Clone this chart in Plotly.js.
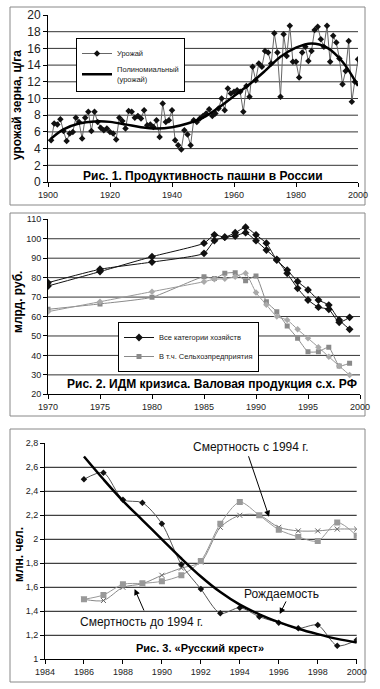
<!DOCTYPE html>
<html><head><meta charset="utf-8">
<script src="https://cdn.plot.ly/plotly-3.0.1.min.js"></script>
<style>html,body{margin:0;padding:0;background:#fff}#chart{width:380px;height:689px}</style>
</head><body><div id="chart"></div>
<script>
// ---- Panel 1: grain yield in Russia (ц/га) ----
const yieldYears = [1901,1902,1903,1904,1905,1906,1907,1908,1909,1910,
  1911,1912,1913,1914,1915,1916,1917,1918,1919,1920,
  1921,1922,1923,1924,1925,1926,1927,1928,1929,1930,
  1931,1932,1933,1934,1935,1936,1937,1938,1939,1940,
  1941,1942,1943,1944,1945,1946,1947,1948,1949,1950,
  1951,1952,1953,1954,1955,1956,1957,1958,1959,1960,
  1961,1962,1963,1964,1965,1966,1967,1968,1969,1970,
  1971,1972,1973,1974,1975,1976,1977,1978,1979,1980,
  1981,1982,1983,1984,1985,1986,1987,1988,1989,1990,
  1991,1992,1993,1994,1995,1996,1997,1998,1999,2000];
const yieldValues = [5.0,7.0,6.9,7.5,6.1,4.9,5.8,6.0,7.7,7.2,
  5.2,7.7,8.4,6.1,8.4,7.2,6.5,6.2,6.4,6.0,
  5.8,5.1,7.7,7.3,6.4,8.5,8.4,7.7,7.9,7.6,
  8.6,6.8,6.9,6.6,7.4,5.4,9.4,7.2,7.4,8.6,
  5.0,4.4,3.9,6.2,5.7,4.4,7.4,7.2,7.6,7.9,
  8.2,8.7,7.9,8.2,8.8,10.0,8.6,11.2,10.6,10.8,
  11.0,10.8,8.4,11.5,10.2,13.8,12.2,14.2,13.8,15.7,
  15.5,14.2,17.8,15.5,10.2,17.7,15.1,18.7,14.4,14.4,
  12.5,15.5,16.2,14.5,15.7,18.2,18.6,17.1,16.2,18.7,
  14.4,17.5,16.7,14.8,11.7,13.3,16.9,9.6,12.0,14.7];
const trendYears = [1901,1905,1910,1915,1920,1925,1930,1935,1940,1945,1950,1955,1960,1965,1970,1975,1980,1985,1990,1995,2000];
const trendValues = [5.2,6.3,7.0,7.25,7.2,6.9,6.55,6.4,6.55,7.0,7.7,8.9,10.3,11.7,13.3,15.0,16.1,16.6,16.1,14.4,11.5];
const xTicks1 = [1900,1920,1940,1960,1980,2000];
const yTicks1 = [0,2,4,6,8,10,12,14,16,18,20];
const grid1 = [2,4,6,8,10,12,14,16,18];

// ---- Panel 2: gross agricultural output, bn rub ----
const idmYears = [1970,1975,1980,1985,1986,1987,1988,1989,1990,1991,1992,1993,1994,1995,1996,1997,1998,1999];
const allFarmsA = [77.4,84.3,88.0,92.5,99.0,100.8,101.4,103.1,99.0,94.2,89.4,82.2,74.5,68.5,64.8,63.7,57.0,59.6];
const allFarmsB = [75.7,83.1,90.8,97.7,102.0,100.8,103.1,105.9,102.0,97.7,89.0,83.9,78.0,73.7,68.5,65.9,58.2,53.4];
const agriEntA = [63.7,66.5,69.9,80.5,79.5,82.2,82.5,78.4,80.9,67.6,62.5,55.1,48.8,41.9,41.9,44.2,34.6,36.0];
const agriEntB = [62.5,67.6,72.8,77.9,79.2,79.4,80.5,82.2,72.3,66.0,60.0,58.2,53.4,48.8,44.2,39.3,34.6,29.9];
const xTicks2 = [1970,1975,1980,1985,1990,1995,2000];
const yTicks2 = [20,30,40,50,60,70,80,90,100,110];
const grid2 = [30,40,50,60,70,80,90,100];

// ---- Panel 3: "Russian cross", mln people ----
const crossYears = [1986,1987,1988,1989,1990,1991,1992,1993,1994,1995,1996,1997,1998,1999,2000];
const births = [2.50,2.555,2.33,2.305,2.13,1.79,1.586,1.383,1.43,1.355,1.305,1.258,1.285,1.113,1.16];
const deathsSq = [1.50,1.536,1.625,1.633,1.65,1.70,1.82,2.13,2.31,2.20,2.08,2.02,1.985,2.14,2.03];
const deathsX = [1.50,1.49,1.60,1.63,1.70,1.76,1.81,2.10,2.20,2.20,2.10,2.07,2.07,2.085,2.085];
const birthTrend = [2.69,2.50,2.32,2.16,2.00,1.84,1.69,1.56,1.455,1.375,1.31,1.255,1.21,1.17,1.14];
const xTicks3 = [1984,1986,1988,1990,1992,1994,1996,1998,2000];
const yTicks3 = [1,1.2,1.4,1.6,1.8,2,2.2,2.4,2.6,2.8];
const grid3 = [1.2,1.4,1.6,1.8,2,2.2,2.4,2.6];

const W = 380, H = 689;
const px = v => v / W;
const py = v => 1 - v / H;
const narrow = "Liberation Sans Narrow, Arial Narrow, Liberation Sans, Arial, sans-serif";
const sans = "Liberation Sans, Arial, sans-serif";

const traces = [
  {x: yieldYears, y: yieldValues, xaxis:'x', yaxis:'y', mode:'lines+markers', name:'Урожай', legend:'legend',
   line:{color:'#666', width:1}, marker:{symbol:'diamond', size:5, color:'#111'}},
  {x: trendYears, y: trendValues, xaxis:'x', yaxis:'y', mode:'lines', name:'Полиномиальный<br>(урожай)', legend:'legend',
   line:{color:'#000', width:2.5, shape:'spline', smoothing:1}},

  {x: idmYears, y: allFarmsA, xaxis:'x2', yaxis:'y2', mode:'lines+markers', name:'Все категории хозяйств', legend:'legend2',
   line:{color:'#111', width:1, shape:'spline', smoothing:0.5}, marker:{symbol:'diamond', size:6, color:'#111'}},
  {x: idmYears, y: allFarmsB, xaxis:'x2', yaxis:'y2', mode:'lines+markers', showlegend:false,
   line:{color:'#111', width:1, shape:'spline', smoothing:0.5}, marker:{symbol:'diamond', size:6, color:'#111'}},
  {x: idmYears, y: agriEntA, xaxis:'x2', yaxis:'y2', mode:'lines+markers', name:'В т.ч. Сельхозпредприятия', legend:'legend2',
   line:{color:'#8a8a8a', width:1, shape:'spline', smoothing:0.5}, marker:{symbol:'square', size:5, color:'#8a8a8a'}},
  {x: idmYears, y: agriEntB, xaxis:'x2', yaxis:'y2', mode:'lines+markers', showlegend:false,
   line:{color:'#999', width:1, shape:'spline', smoothing:0.5}, marker:{symbol:'diamond', size:5, color:'#aaa'}},

  {x: crossYears, y: deathsX, xaxis:'x3', yaxis:'y3', mode:'lines+markers', showlegend:false,
   line:{color:'#888', width:1, shape:'spline', smoothing:0.8}, marker:{symbol:'x-thin', size:5, color:'#666', line:{color:'#666', width:1}}},
  {x: crossYears, y: deathsSq, xaxis:'x3', yaxis:'y3', mode:'lines+markers', showlegend:false,
   line:{color:'#999', width:1, shape:'spline', smoothing:0.8}, marker:{symbol:'square', size:6, color:'#999'}},
  {x: crossYears, y: births, xaxis:'x3', yaxis:'y3', mode:'lines+markers', showlegend:false,
   line:{color:'#555', width:1, shape:'spline', smoothing:0.8}, marker:{symbol:'diamond', size:5, color:'#111'}},
  {x: crossYears, y: birthTrend, xaxis:'x3', yaxis:'y3', mode:'lines', showlegend:false,
   line:{color:'#000', width:2.5, shape:'spline', smoothing:1}}
];

function xax(domain, range, tickvals, anchor) {
  return {domain, range, tickvals, anchor, showline:true, linecolor:'#000', linewidth:1,
    ticks:'outside', ticklen:4, tickcolor:'#000', showgrid:false, zeroline:false, fixedrange:true,
    tickfont:{family:sans, size:9, color:'#222'}};
}
function yax(domain, range, tickvals, anchor, fs) {
  return {domain, range, tickvals, anchor, showline:true, linecolor:'#000', linewidth:1,
    ticks:'outside', ticklen:4, tickcolor:'#000', showgrid:false, zeroline:false, fixedrange:true,
    tickfont:{family:sans, size:fs, color:'#222'}};
}

const shapes = [];
[[10,7,365,205],[10,213,365,416],[10,429,365,682]].forEach(b => {
  shapes.push({type:'rect', xref:'paper', yref:'paper', x0:px(b[0]), x1:px(b[2]), y0:py(b[3]), y1:py(b[1]),
    line:{color:'#888', width:1}, fillcolor:'rgba(0,0,0,0)', layer:'below'});
});
grid1.forEach(v => shapes.push({type:'line', xref:'x domain', yref:'y', x0:0, x1:1, y0:v, y1:v, line:{color:'#333', width:1}, layer:'below'}));
grid2.forEach(v => shapes.push({type:'line', xref:'x2 domain', yref:'y2', x0:0, x1:1, y0:v, y1:v, line:{color:'#333', width:1}, layer:'below'}));
grid3.forEach(v => shapes.push({type:'line', xref:'x3 domain', yref:'y3', x0:0, x1:1, y0:v, y1:v, line:{color:'#111', width:1}, layer:'below'}));

const annotations = [
  {xref:'paper', yref:'paper', x:px(17), y:py(105), text:'<b>урожай зерна, ц/га</b>', textangle:-90, showarrow:false,
   font:{family:sans, size:12, color:'#000'}, xanchor:'center', yanchor:'middle'},
  {xref:'paper', yref:'paper', x:px(18), y:py(302), text:'<b>млрд. руб.</b>', textangle:-90, showarrow:false,
   font:{family:sans, size:12, color:'#000'}, xanchor:'center', yanchor:'middle'},
  {xref:'paper', yref:'paper', x:px(19), y:py(555), text:'<b>млн. чел.</b>', textangle:-90, showarrow:false,
   font:{family:sans, size:12, color:'#000'}, xanchor:'center', yanchor:'middle'},
  {xref:'paper', yref:'paper', x:px(203), y:py(176), text:'<b>Рис. 1. Продуктивность пашни в России</b>', showarrow:false,
   font:{family:sans, size:12, color:'#000'}, xanchor:'center', yanchor:'middle'},
  {xref:'paper', yref:'paper', x:px(211.5), y:py(384), text:'<b>Рис. 2. ИДМ кризиса. Валовая продукция с.х. РФ</b>', showarrow:false,
   font:{family:sans, size:12, color:'#000'}, xanchor:'center', yanchor:'middle'},
  {xref:'paper', yref:'paper', x:px(200), y:py(648), text:'<b>Рис. 3. «Русский крест»</b>', showarrow:false,
   font:{family:sans, size:11, color:'#000'}, xanchor:'center', yanchor:'middle'},
  {xref:'paper', yref:'paper', x:px(251), y:py(447), text:'Смертность с 1994 г.', showarrow:false,
   font:{family:narrow, size:12, color:'#111'}, xanchor:'center', yanchor:'middle'},
  {xref:'paper', yref:'paper', x:px(141), y:py(622), text:'Смертность до 1994 г.', showarrow:false,
   font:{family:narrow, size:12, color:'#111'}, xanchor:'center', yanchor:'middle'},
  {xref:'paper', yref:'paper', x:px(281.5), y:py(594), text:'Рождаемость', showarrow:false,
   font:{family:narrow, size:12, color:'#111'}, xanchor:'center', yanchor:'middle'},
  {xref:'x3', yref:'y3', x:1995.5, y:2.188, ax:-21, ay:-62, text:'', showarrow:true, arrowhead:2, arrowsize:1.2, arrowwidth:1, arrowcolor:'#000', standoff:0},
  {xref:'x3', yref:'y3', x:1988.6, y:1.586, ax:10, ay:23, text:'', showarrow:true, arrowhead:2, arrowsize:1.2, arrowwidth:1, arrowcolor:'#000', standoff:0},
  {xref:'x3', yref:'y3', x:1996.05, y:1.378, ax:7, ay:-14, text:'', showarrow:true, arrowhead:2, arrowsize:1.2, arrowwidth:1, arrowcolor:'#000', standoff:0}
];

const layout = {
  width:W, height:H, autosize:false, margin:{l:0, r:0, t:0, b:0},
  paper_bgcolor:'#fff', plot_bgcolor:'rgba(0,0,0,0)', separators:', ',
  hovermode:false, showlegend:true,
  xaxis: xax([px(48), px(358)], [1900,2000], xTicks1, 'y'),
  yaxis: yax([py(182), py(15)], [0,20], yTicks1, 'x', 12),
  xaxis2: xax([px(48), px(360)], [1970,2000], xTicks2, 'y2'),
  yaxis2: yax([py(394.3), py(219.3)], [20,110], yTicks2, 'x2', 9),
  xaxis3: xax([px(45), px(356.7)], [1984,2000], xTicks3, 'y3'),
  yaxis3: yax([py(659.3), py(443.3)], [1,2.8], yTicks3, 'x3', 9),
  legend: {x:px(76), y:py(38), xanchor:'left', yanchor:'top', bgcolor:'#fff', bordercolor:'#000', borderwidth:1,
    font:{family:narrow, size:7.5, color:'#222'}, tracegroupgap:0, itemwidth:30},
  legend2: {x:px(118), y:py(322), xanchor:'left', yanchor:'top', bgcolor:'#fff', bordercolor:'#000', borderwidth:1,
    font:{family:narrow, size:7.5, color:'#222'}, tracegroupgap:0, itemwidth:30},
  shapes, annotations
};

Plotly.newPlot('chart', traces, layout, {staticPlot:true, displayModeBar:false});
</script></body></html>
